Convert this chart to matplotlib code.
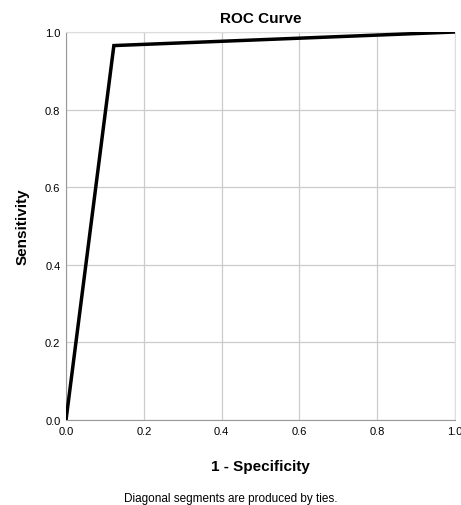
import matplotlib.pyplot as plt

# ROC points
fpr = [0.0, 0.123, 1.0]
tpr = [0.0, 0.965, 1.0]
ticks = [0.0, 0.2, 0.4, 0.6, 0.8, 1.0]
tick_labels = ['0.0', '0.2', '0.4', '0.6', '0.8', '1.0']

plt.rcParams['font.family'] = ['Liberation Sans', 'DejaVu Sans']

fig = plt.figure(figsize=(4.61, 5.06), dpi=100)
ax = fig.add_axes([0.1432, 0.168, 0.8438, 0.7668])

ax.plot(fpr, tpr, color='black', linewidth=2.5, solid_joinstyle='miter', zorder=3)

ax.set_xlim(0, 1)
ax.set_ylim(0, 1)
ax.set_xticks(ticks)
ax.set_yticks(ticks)
ax.set_xticklabels(tick_labels, fontsize=8)
ax.set_yticklabels(tick_labels, fontsize=8)
ax.tick_params(length=0, pad=4)
ax.grid(color='#cccccc', linewidth=0.9)
ax.set_axisbelow(True)
for s in ['top', 'right']:
    ax.spines[s].set_color('#dddddd')
for s in ['left', 'bottom']:
    ax.spines[s].set_color('#999999')

ax.set_title('ROC Curve', fontsize=11, fontweight='bold', pad=7)
ax.set_xlabel('1 - Specificity', fontsize=11, fontweight='bold', labelpad=17)
ax.set_ylabel('Sensitivity', fontsize=11, fontweight='bold', labelpad=11)

fig.text(0.5, 0.008, 'Diagonal segments are produced by ties.', ha='center', fontsize=8.5)

fig.savefig('out.png', dpi=100)
